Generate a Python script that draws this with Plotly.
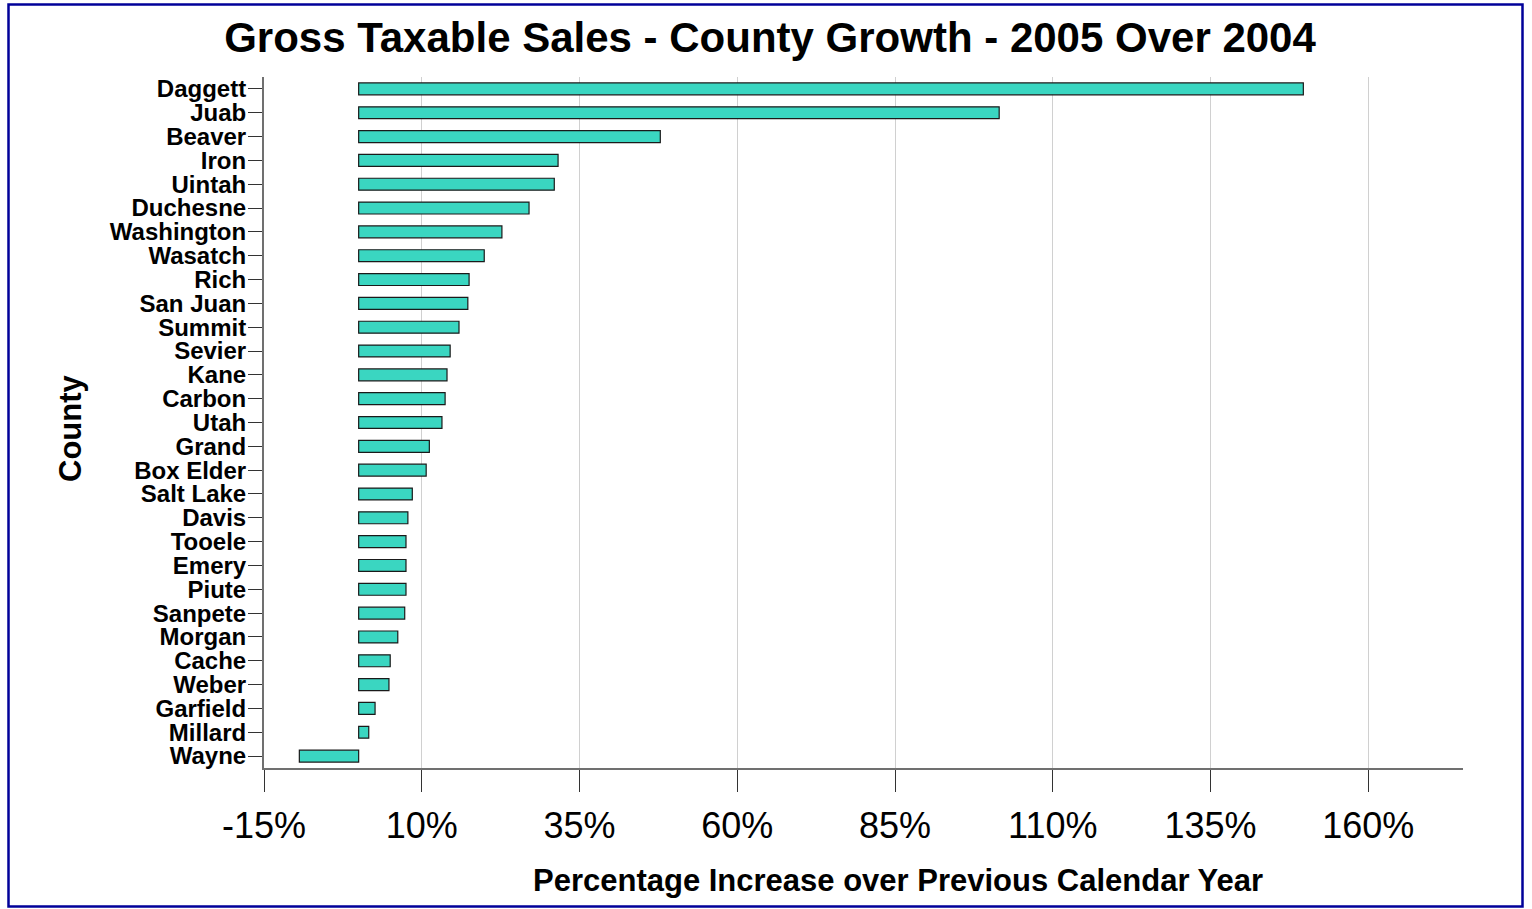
import plotly.graph_objects as go

counties = ["Daggett", "Juab", "Beaver", "Iron", "Uintah", "Duchesne", "Washington",
            "Wasatch", "Rich", "San Juan", "Summit", "Sevier", "Kane", "Carbon", "Utah",
            "Grand", "Box Elder", "Salt Lake", "Davis", "Tooele", "Emery", "Piute",
            "Sanpete", "Morgan", "Cache", "Weber", "Garfield", "Millard", "Wayne"]
growth = [149.7, 101.5, 47.8, 31.6, 31.0, 27.0, 22.7, 19.9, 17.5, 17.3, 15.9, 14.5,
          14.0, 13.7, 13.2, 11.2, 10.7, 8.5, 7.8, 7.5, 7.5, 7.5, 7.3, 6.2, 5.0, 4.8,
          2.6, 1.6, -9.4]
tick_vals = [-15, 10, 35, 60, 85, 110, 135, 160]
tick_text = ["-15%", "10%", "35%", "60%", "85%", "110%", "135%", "160%"]

W, H = 1532, 909
L, R, T, B = 264, 69, 77, 141
pw, ph = W - L - R, H - T - B

fig = go.Figure()
fig.add_trace(go.Bar(
    x=growth, y=counties, orientation="h", width=0.5,
    marker=dict(color="#3AD6C1", line=dict(color="#1a1a1a", width=1.2)),
    hovertemplate="%{y}: %{x:.1f}%<extra></extra>",
))

def px_x(x):
    return (x - L) / pw

def px_y(y):
    return (H - B - y) / ph

fig.update_layout(
    width=W, height=H,
    margin=dict(l=L, r=R, t=T, b=B),
    paper_bgcolor="white", plot_bgcolor="white",
    showlegend=False,
    font=dict(family="Liberation Sans, Arial, sans-serif", color="black"),
    title=dict(text="<b>Gross Taxable Sales - County Growth - 2005 Over 2004</b>",
               x=px_x(770), xanchor="center", xref="paper", y=1 - 37 / H, yanchor="middle",
               font=dict(size=42, color="black")),
    xaxis=dict(range=[-15, 175], tickvals=tick_vals, ticktext=tick_text,
               showgrid=True, gridcolor="#d0d0d0", gridwidth=1,
               showline=True, linecolor="#707070", linewidth=1.5,
               ticks="outside", ticklen=22, tickcolor="#333", tickwidth=1,
               ticklabelstandoff=3,
               tickfont=dict(size=36, color="black"), zeroline=False),
    yaxis=dict(categoryorder="array", categoryarray=counties, autorange=False,
               range=[len(counties) - 0.5, -0.5],
               tickmode="array", tickvals=counties, ticktext=counties,
               showline=True, linecolor="#707070", linewidth=2,
               ticks="outside", ticklen=14, tickcolor="#333", tickwidth=1,
               ticklabelstandoff=-3,
               tickfont=dict(size=24, color="black", weight="bold"),
               showgrid=False, zeroline=False),
    annotations=[
        dict(text="<b>Percentage Increase over Previous Calendar Year</b>",
             x=px_x(898), y=px_y(880), xref="paper", yref="paper",
             xanchor="center", yanchor="middle", showarrow=False,
             font=dict(size=31, color="black")),
        dict(text="<b>County</b>", x=px_x(70), y=px_y(428), xref="paper", yref="paper",
             xanchor="center", yanchor="middle", showarrow=False, textangle=-90,
             font=dict(size=31, color="black")),
    ],
    shapes=[
        dict(type="rect", xref="paper", yref="paper",
             x0=px_x(8.5), x1=px_x(1522.5), y0=px_y(906.5), y1=px_y(4.5),
             line=dict(color="#000099", width=2.5), fillcolor="rgba(0,0,0,0)",
             layer="below"),
    ],
)

fig.write_html("out.html", config={"displayModeBar": False},
               post_script="document.body.style.margin='0';document.body.style.overflow='hidden';")
